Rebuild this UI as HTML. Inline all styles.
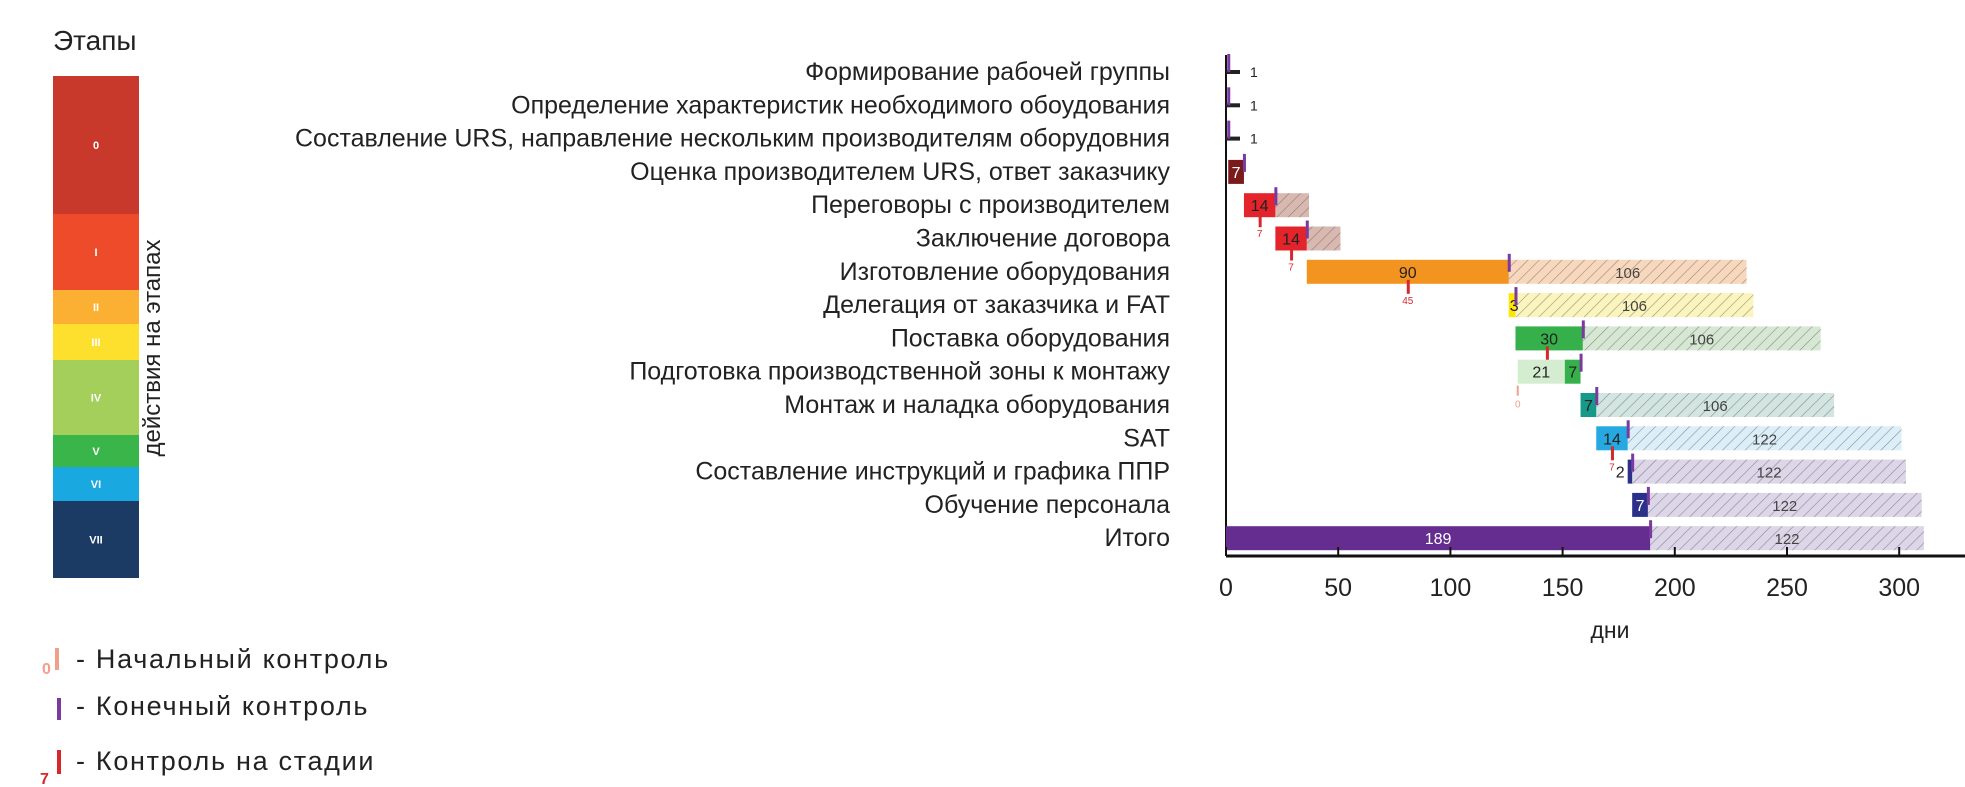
<!DOCTYPE html>
<html><head><meta charset="utf-8"><style>
body{margin:0;background:#fff;}
svg{display:block;font-family:"Liberation Sans","DejaVu Sans",sans-serif;}
</style></head><body>
<svg id="c" width="1965" height="787" viewBox="0 0 1965 787">
<defs>
<pattern id="hatch" width="8" height="8" patternUnits="userSpaceOnUse" patternTransform="rotate(45)">
<line x1="0" y1="0" x2="0" y2="8" stroke="#555" stroke-width="1.2" opacity="0.6"/>
</pattern>
</defs>
<text x="53" y="50" font-size="28" fill="#222">Этапы</text>
<g id="stages"></g>
<text transform="translate(160,348) rotate(-90)" text-anchor="middle" font-size="24" fill="#222">действия на этапах</text>
<g>
<rect x="55" y="648" width="4" height="22" fill="#f0a08a"/>
<text x="42" y="674" font-size="16" font-weight="bold" fill="#f0a08a">0</text>
<text x="76" y="668" font-size="27" letter-spacing="1.7" fill="#222">- Начальный контроль</text>
<rect x="57" y="698" width="4" height="22" fill="#7b3aa0"/>
<text x="76" y="715" font-size="27" letter-spacing="1.7" fill="#222">- Конечный контроль</text>
<rect x="57" y="750" width="4" height="24" fill="#d8262c"/>
<text x="40" y="784" font-size="16" font-weight="bold" fill="#d8262c">7</text>
<text x="76" y="770" font-size="27" letter-spacing="1.7" fill="#222">- Контроль на стадии</text>
</g>
<g id="plot"></g>
</svg>
<script>
const categories=["Формирование рабочей группы","Определение характеристик необходимого обоудования","Составление URS, направление нескольким производителям оборудовния","Оценка производителем URS, ответ заказчику","Переговоры с производителем","Заключение договора","Изготовление оборудования","Делегация от заказчика и FAT","Поставка оборудования","Подготовка производственной зоны к монтажу","Монтаж и наладка оборудования","SAT","Составление инструкций и графика ППР","Обучение персонала","Итого"];
const starts=[0,0,0,1,8,22,36,126,129,130,158,165,179,181,0];
const durations=[1,1,1,7,14,14,90,3,30,21,7,14,2,7,189];
const extraDur=[0,0,0,0,0,0,0,0,0,7,0,0,0,0,0];
const reserve=[0,0,0,0,15,15,106,106,106,0,106,122,122,122,122];
const midControl=[null,null,null,null,7,7,45,null,14,null,null,7,null,null,null];
const startControl=[null,null,null,null,null,null,null,null,null,0,null,null,null,null,null];
const barColors=["#222","#222","#222","#7a1a1a","#e3242b","#e3242b","#f39420","#ffe600","#35b04a","#d4ecd0","#17998a","#26a9e0","#2b3189","#2b3189","#662d91"];
const reserveColors=["","","","","#d9b8b0","#d9b8b0","#f8d8bd","#fbf4bd","#d6e8d3","","#d3e5e1","#dceef8","#dcd6e8","#dcd6e8","#dcd6e8"];
const ticks=[0,50,100,150,200,250,300];
const stageNames=["0","I","II","III","IV","V","VI","VII"];
const stageBounds=[76,214,290,324,360,435,467,501,578];
const stageColors=["#c9392b","#ee4b2b","#fbb034","#fde02e","#a3cf5a","#3ab54a","#1aa8e0","#1b3a64"];

const NS="http://www.w3.org/2000/svg";
function mk(p,t,a){const e=document.createElementNS(NS,t);for(const k in a)e.setAttribute(k,a[k]);p.appendChild(e);return e;}
const X0=1226,PX=2.244,Y0=72,ROW=33.3,BH=24,AXY=556;
const xs=v=>X0+v*PX, ys=i=>Y0+i*ROW;
const plot=document.getElementById('plot'), st=document.getElementById('stages');
const whiteLbl=[false,false,false,true,false,false,false,false,false,false,false,false,false,true,true];

stageNames.forEach((n,i)=>{
 const r=mk(st,'rect',{x:53,y:stageBounds[i],width:86,height:stageBounds[i+1]-stageBounds[i],fill:stageColors[i]});
 
 
 const t=mk(st,'text',{x:96,y:(stageBounds[i]+stageBounds[i+1])/2+4,'text-anchor':'middle','font-size':11,'font-weight':'bold',fill:'#fff'});
 t.textContent=n;
 
 
});

const ax=mk(plot,'line',{x1:X0,y1:55,x2:X0,y2:AXY,stroke:'#111','stroke-width':2});



categories.forEach((c,i)=>{
 const y=ys(i);
 const lb=mk(plot,'text',{x:1170,y:y+8,'text-anchor':'end','font-size':25,fill:'#222'});
 lb.textContent=c;
 
 
 const s=starts[i],d=durations[i],end=s+d+extraDur[i];
 if(i<3){
  const b=mk(plot,'rect',{x:xs(s),y:y-2,width:Math.max(d*PX,14),height:4,fill:barColors[i]});
  
  
  const t=mk(plot,'text',{x:xs(s)+24,y:y+5,'font-size':14,fill:'#222'});t.textContent=d;
  
  
 } else {
  if(reserve[i]>0){
   const r1=mk(plot,'rect',{x:xs(end),y:y-BH/2,width:reserve[i]*PX,height:BH,fill:reserveColors[i]});
   
   
   mk(plot,'rect',{x:xs(end),y:y-BH/2,width:reserve[i]*PX,height:BH,fill:'url(#hatch)'});
   if(reserve[i]>50){const t=mk(plot,'text',{x:xs(end+reserve[i]/2),y:y+6,'text-anchor':'middle','font-size':15,fill:'#444'});t.textContent=reserve[i];
   
   }
  }
  const b=mk(plot,'rect',{x:xs(s),y:y-BH/2,width:d*PX,height:BH,fill:barColors[i]});
  
  
  if(extraDur[i]>0){const e=mk(plot,'rect',{x:xs(s+d),y:y-BH/2,width:extraDur[i]*PX,height:BH,fill:'#35b04a'});
   
   
   const t=mk(plot,'text',{x:xs(s+d+extraDur[i]/2),y:y+6,'text-anchor':'middle','font-size':16,fill:'#222'});t.textContent=extraDur[i];
   
   }
  let tx=xs(s+d/2), anchor='middle';
  if(d<3){tx=xs(s)-3;anchor='end';}
  else if(d<5){tx=xs(s)+1;anchor='start';}
  const t=mk(plot,'text',{x:tx,y:y+6,'text-anchor':anchor,'font-size':16,fill:whiteLbl[i]?'#fff':'#222'});t.textContent=d;
  
  
 }
 const fc=mk(plot,'rect',{x:xs(s+d+extraDur[i])-1,y:y-BH/2-6,width:3,height:BH/2+6,fill:'#7b3aa0'});
 
 
 if(midControl[i]!=null){
  const m=s+midControl[i];
  const r=mk(plot,'rect',{x:xs(m)-1,y:y+BH/2-4,width:3,height:14,fill:'#d8262c'});
  
  
  const t=mk(plot,'text',{x:xs(m),y:y+BH/2+20,'text-anchor':'middle','font-size':10,fill:'#d8262c'});t.textContent=midControl[i];
  
  
 }
 if(startControl[i]!=null){
  const m=s+startControl[i];
  const r=mk(plot,'rect',{x:xs(m)-1,y:y+BH/2+2,width:2,height:10,fill:'#f0a08a'});
  
  
  const t=mk(plot,'text',{x:xs(m),y:y+BH/2+24,'text-anchor':'middle','font-size':10,fill:'#f0a08a'});t.textContent=startControl[i];
  
  
 }
});

const xa=mk(plot,'line',{x1:X0,y1:AXY,x2:1965,y2:AXY,stroke:'#111','stroke-width':3});


ticks.forEach(t=>{
 const l=mk(plot,'line',{x1:xs(t),y1:AXY-9,x2:xs(t),y2:AXY,stroke:'#111','stroke-width':2});
 
 
 const tx=mk(plot,'text',{x:xs(t),y:596,'text-anchor':'middle','font-size':25,fill:'#222'});
 tx.textContent=t;
 
 
});
const xt=mk(plot,'text',{x:1610,y:638,'text-anchor':'middle','font-size':23,fill:'#222'});
xt.textContent='дни';


</script>
</body></html>
